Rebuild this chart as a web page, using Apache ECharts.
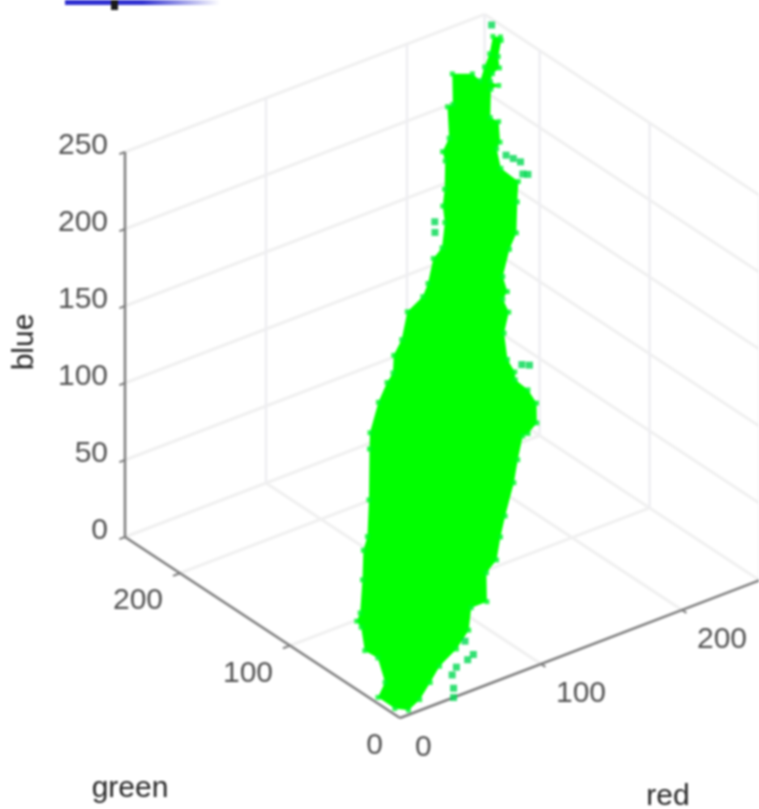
<!DOCTYPE html>
<html>
<head>
<meta charset="utf-8">
<style>
html,body{margin:0;padding:0;background:#fff;overflow:hidden}
#chart{width:759px;height:809px;filter:blur(0.85px)}
</style>
<script src="https://cdn.jsdelivr.net/npm/echarts@6/dist/echarts.min.js"></script>
</head>
<body>
<div id="chart"></div>
<script>
// Tick values of the three colour axes
const redTicks = [0, 100, 200];
const greenTicks = [0, 100, 200];
const blueTicks = [0, 50, 100, 150, 200, 250];
const redMax = 255;
const greenMax = 250;
const blueMax = 250;

// Boundary samples of the pixel cloud (red, green, blue)
const cloudRed = [253,252,246,243,238,235,237,233,224,226,220,216,212,215,208,198,190,179,176,172,170,162,155,154,152,154,153,147,140,137,128,119,105,97,88,80,71,63,55,44,32,23,14,6,1,0,5,10,7,13,13,17,28,38,44,56,72,77,90,100,105,111,119,130,141,147,157,164,173,177,183,192,194,201,210,213,222,230,231,237,243,250];
const cloudGreen = [233,231,226,221,221,219,214,216,205,200,191,189,180,168,160,148,144,136,128,127,119,113,101,93,90,81,72,64,63,64,57,49,39,33,25,24,12,16,8,5,5,2,0,0,6,20,20,33,41,52,56,58,70,82,86,100,120,126,135,140,141,148,151,160,160,163,171,172,181,188,194,205,210,213,226,225,237,229,223,227,230,236];
const cloudBlue = [244,243,237,233,231,228,227,225,215,214,207,205,198,194,187,176,170,160,155,152,148,140,131,127,124,121,117,110,106,105,96,88,76,68,60,55,45,42,34,27,20,14,7,3,3,4,12,20,22,30,32,35,47,57,62,75,93,99,110,117,121,127,133,143,149,154,163,167,176,182,188,198,201,206,217,218,229,230,228,233,238,244];

// Stray pixels standing apart from the main cloud
const strayRed = [253,218,220,222,219,221,169,166,162,159,52,48,50,40,37,38,38];
const strayGreen = [241,183,179,175,169,167,185,181,90,93,0,0,5,0,0,0,0];
const strayBlue = [248,203,202,201,197,197,176,172,130,130,23,21,30,19,15,6,0];

const axisNames = ['red', 'green', 'blue'];

// Oblique view of the RGB cube on the page
const viewOrigin = [400, 718];
const redStep = [1.41, -0.54];
const greenStep = [-1.10, -0.724];
const blueStep = [0, -1.54];
function project(r, g, b) {
  return [
    viewOrigin[0] + r * redStep[0] + g * greenStep[0] + b * blueStep[0],
    viewOrigin[1] + r * redStep[1] + g * greenStep[1] + b * blueStep[1]
  ];
}

const FONT = '"Liberation Sans", Arial, sans-serif';
const TEXT_COLOR = '#262626';
const series = [];

function addLine(a, b, color, width) {
  series.push({
    type: 'line', silent: true, showSymbol: false, symbol: 'none',
    z: 1, animation: false,
    lineStyle: { color: color, width: width },
    data: [project(a[0], a[1], a[2]), project(b[0], b[1], b[2])]
  });
}

const gridColor = '#f0f0f0', wallColor = '#eeeef2', axisColor = '#7c7c7c';

// Floor grid
redTicks.filter(v => v > 0).forEach(v => addLine([v, 0, 0], [v, greenMax, 0], gridColor, 3));
greenTicks.filter(v => v > 0).forEach(v => addLine([0, v, 0], [redMax, v, 0], gridColor, 3));
addLine([0, greenMax, 0], [redMax, greenMax, 0], gridColor, 3);
addLine([redMax, 0, 0], [redMax, greenMax, 0], gridColor, 3);

// Back walls: horizontal lines
blueTicks.filter(v => v > 0).forEach(v => {
  addLine([0, greenMax, v], [redMax, greenMax, v], gridColor, 3);
  addLine([redMax, greenMax, v], [redMax, 0, v], gridColor, 3);
});
// Back walls: vertical lines
redTicks.filter(v => v > 0).forEach(v => addLine([v, greenMax, 0], [v, greenMax, blueMax], wallColor, 2.5));
greenTicks.forEach(v => addLine([redMax, v, 0], [redMax, v, blueMax], wallColor, 2.5));
addLine([redMax, greenMax, 0], [redMax, greenMax, blueMax], wallColor, 2.5);

// Three drawn axes
addLine([0, greenMax, 0], [0, greenMax, blueMax], axisColor, 2.5);
addLine([0, 0, 0], [0, greenMax, 0], axisColor, 2.5);
addLine([0, 0, 0], [redMax, 0, 0], axisColor, 2.5);

// Tick marks
blueTicks.forEach(v => addLine([0, greenMax, v], [-4, greenMax, v], axisColor, 2));
greenTicks.filter(v => v > 0).forEach(v => addLine([0, v, 0], [-5, v, 0], axisColor, 2));
redTicks.filter(v => v > 0).forEach(v => addLine([v, 0, 0], [v, -4, 0], axisColor, 2));

// Cloud body
const cloudPoints = cloudRed.map((r, i) => project(r, cloudGreen[i], cloudBlue[i]));
series.push({
  type: 'custom', silent: true, z: 3, animation: false,
  coordinateSystem: 'cartesian2d',
  data: [[0, 0]],
  renderItem: function (params, api) {
    return {
      type: 'polygon',
      shape: { points: cloudPoints.map(p => api.coord(p)) },
      style: { fill: '#00ff00' }
    };
  }
});
// Cloud edge pixels
series.push({
  type: 'scatter', silent: true, z: 4, animation: false,
  symbol: 'rect', symbolSize: 5,
  itemStyle: { color: '#00f828' },
  data: cloudPoints
});
// Stray pixels
series.push({
  type: 'scatter', silent: true, z: 4, animation: false,
  symbol: 'rect', symbolSize: 7,
  itemStyle: { color: '#00d850' },
  data: strayRed.map((r, i) => project(r, strayGreen[i], strayBlue[i]))
});

// Tick labels
function addLabels(points, align, offset) {
  series.push({
    type: 'scatter', silent: true, z: 5, animation: false,
    symbolSize: 1,
    itemStyle: { color: 'transparent' },
    label: {
      show: true, position: 'inside', align: align, verticalAlign: 'middle',
      offset: offset,
      formatter: p => String(p.value[2]),
      fontFamily: FONT, fontSize: 30, color: TEXT_COLOR
    },
    data: points
  });
}
addLabels(blueTicks.map(v => [...project(0, greenMax, v), v]), 'right', [-17, -6]);
addLabels(greenTicks.map(v => [...project(0, v, 0), v]), 'right', [-17, 28]);
addLabels(redTicks.map(v => [...project(v, 0, 0), v]), 'left', [15, 30]);

const chart = echarts.init(document.getElementById('chart'), null, { renderer: 'canvas' });
chart.setOption({
  animation: false,
  backgroundColor: '#ffffff',
  grid: { left: 0, right: 0, top: 0, bottom: 0 },
  xAxis: { type: 'value', min: 0, max: 759, show: false },
  yAxis: { type: 'value', min: 0, max: 809, inverse: true, show: false },
  series: series,
  graphic: [
    { type: 'rect', z: 10, shape: { x: 65, y: -2, width: 155, height: 7 },
      style: { fill: new echarts.graphic.LinearGradient(0, 0, 1, 0, [
        { offset: 0, color: '#2f2fd0' },
        { offset: 0.5, color: '#3232d0' },
        { offset: 1, color: '#ffffff' }
      ]) } },
    { type: 'rect', z: 11, shape: { x: 111, y: -2, width: 7, height: 12 }, style: { fill: '#1a1a1a' } },
    { type: 'text', z: 10, x: 668, y: 797, style: { text: axisNames[0], font: '30px ' + FONT, fill: TEXT_COLOR, textAlign: 'center', textVerticalAlign: 'middle' } },
    { type: 'text', z: 10, x: 130, y: 789, style: { text: axisNames[1], font: '30px ' + FONT, fill: TEXT_COLOR, textAlign: 'center', textVerticalAlign: 'middle' } },
    { type: 'text', z: 10, x: 25, y: 342, rotation: Math.PI / 2, style: { text: axisNames[2], font: '30px ' + FONT, fill: TEXT_COLOR, textAlign: 'center', textVerticalAlign: 'middle' } }
  ]
});
</script>
</body>
</html>
